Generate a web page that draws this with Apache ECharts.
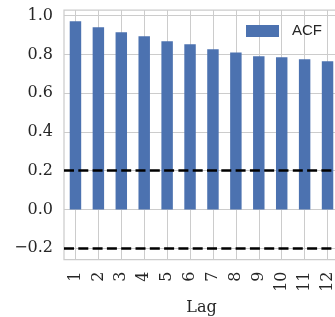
<!DOCTYPE html>
<html>
<head>
<meta charset="utf-8">
<script src="https://cdn.jsdelivr.net/npm/echarts@6/dist/echarts.min.js"></script>
<style>
html,body{margin:0;padding:0;background:#fff;}
#c{width:335px;height:317px;}
</style>
</head>
<body>
<div id="c"></div>
<script>
const lags = ['1','2','3','4','5','6','7','8','9','10','11','12'];
const acf = [0.971, 0.940, 0.914, 0.893, 0.868, 0.852, 0.826, 0.810, 0.790, 0.785, 0.775, 0.764];
const yTicks = [-0.2, 0.0, 0.2, 0.4, 0.6, 0.8, 1.0];
const confBands = [0.2, -0.2];
const yMin = -0.258, yMax = 1.029;

const chart = echarts.init(document.getElementById('c'), null, {renderer: 'canvas'});
const serif = 'DejaVu Serif';
const gridColor = '#cccccc';
const textColor = '#262626';

chart.setOption({
  animation: false,
  backgroundColor: '#ffffff',
  grid: {
    left: 64, top: 10, width: 275, height: 249.5,
    show: true, borderColor: gridColor, borderWidth: 1.25,
    backgroundColor: 'transparent', containLabel: false,
    outerBoundsMode: 'none'
  },
  legend: {
    data: ['ACF'],
    left: 246, top: 23.5, padding: 0,
    icon: 'rect', itemWidth: 33, itemHeight: 12,
    textStyle: {fontFamily: 'Liberation Sans', fontSize: 15, color: textColor, padding: [0, 0, 0, 8]}
  },
  xAxis: [
    {
      type: 'category', data: lags, gridIndex: 0, position: 'bottom',
      axisLine: {show: false}, axisTick: {show: false}, splitLine: {show: false},
      axisLabel: {rotate: 90, margin: 12, fontFamily: serif, fontSize: 16, color: textColor},
      name: 'Lag', nameLocation: 'middle', nameGap: 36,
      nameTextStyle: {fontFamily: serif, fontSize: 16, color: textColor}
    },
    {
      type: 'value', gridIndex: 0, position: 'bottom', min: -0.5, max: lags.length - 0.5,
      axisLine: {show: false},
      axisTick: {show: false, customValues: lags.map((_, i) => i)},
      axisLabel: {show: false, customValues: lags.map((_, i) => i)},
      splitLine: {show: true, lineStyle: {color: gridColor, width: 1}}
    }
  ],
  yAxis: {
    type: 'value', min: yMin, max: yMax,
    axisLine: {show: false},
    axisTick: {show: false, customValues: yTicks},
    axisLabel: {
      customValues: yTicks, margin: 11, fontFamily: serif, fontSize: 16, color: textColor,
      formatter: v => v.toFixed(1).replace('-', '\u2212')
    },
    splitLine: {show: true, lineStyle: {color: gridColor, width: 1}}
  },
  series: [
    {
      name: 'ACF', type: 'bar', data: acf, xAxisIndex: 0, barWidth: '50%',
      itemStyle: {color: '#4c72b0'},
      markLine: {
        silent: true, symbol: 'none', label: {show: false},
        lineStyle: {color: '#000000', width: 2.7, type: [10, 4.3]},
        data: confBands.map(v => ({yAxis: v}))
      }
    }
  ]
});
</script>
</body>
</html>
